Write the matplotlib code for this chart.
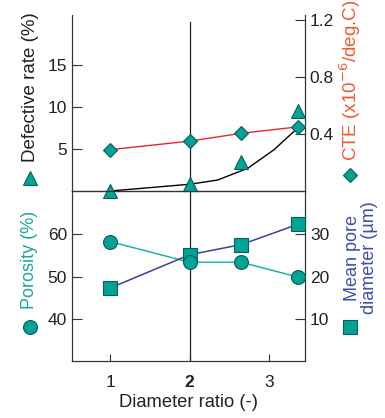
import matplotlib
matplotlib.use("Agg")
import matplotlib.pyplot as plt

plt.rcParams['font.family'] = ['Liberation Sans', 'DejaVu Sans']
plt.rcParams['font.size'] = 12

# diameter ratio positions
ratio = [1, 2, 2.65, 3.36]

# top panel
defect = [0, 0.8, 3.4, 9.5]
defect_curve_x = [1, 2, 2.35, 2.73, 3.06, 3.36]
defect_curve_y = [0, 0.8, 1.3, 2.7, 4.9, 7.5]
cte = [0.29, 0.35, 0.405, 0.45]

# bottom panel
porosity = [58.3, 53.4, 53.4, 49.9]
pore_diam = [17.3, 25.2, 27.6, 32.4]

teal = '#00a396'
edge = '#0b5d57'
txt = '#222222'

fig = plt.figure(figsize=(3.85, 4.18), dpi=100)
L, W = 72/385, 233/385
ax_top = fig.add_axes([L, 1-191/418, W, 176/418])
ax_bot = fig.add_axes([L, 1-361/418, W, 170/418])
ax_top2 = ax_top.twinx()
ax_bot2 = ax_bot.twinx()

for a in (ax_top, ax_bot, ax_top2, ax_bot2):
    a.set_xlim(0.52, 3.45)
    a.patch.set_visible(False)
    for s in a.spines.values():
        s.set_linewidth(0.8)
        s.set_color('#333333')
    a.tick_params(direction='in', length=7, width=0.8, colors='#333333',
                  labelcolor=txt, labelsize=12.5, pad=3.5)

# top panel
ax_top.spines['top'].set_visible(False)
ax_top2.spines['top'].set_visible(False)
ax_top.set_ylim(0, 20.9)
ax_top2.set_ylim(0, 1.235)
ax_top.set_yticks([5, 10, 15])
ax_top2.set_yticks([0.4, 0.8, 1.2])
ax_top.set_xticks([])
ax_top2.set_xticks([])
ax_top.axvline(2, ymax=0.96, color='#222222', lw=0.9)

ax_top.plot(defect_curve_x, defect_curve_y, color='black', lw=1, zorder=2)
ax_top2.plot(ratio, cte, color='#e8262a', lw=1, zorder=2)
ax_top2.plot(ratio, cte, ls='none', marker='D', ms=7.5, mfc=teal, mec=edge,
             mew=0.8, zorder=3, clip_on=False)
ax_top2.plot(ratio, [v * 1.235 / 20.9 for v in defect], ls='none', marker='^', ms=10,
             mfc=teal, mec=edge, mew=0.8, zorder=4, clip_on=False)

# bottom panel
ax_bot.set_ylim(30, 70.3)
ax_bot2.set_ylim(0, 40.3)
ax_bot.set_yticks([40, 50, 60])
ax_bot2.set_yticks([10, 20, 30])
ax_bot.set_xticks([1, 2, 3])
ax_bot.set_xticklabels(['1', '2', '3'])
ax_bot.get_xticklabels()[1].set_fontweight('bold')
ax_bot.tick_params(axis='x', length=5, pad=10)
ax_bot.axvline(2, color='#222222', lw=0.9)

ax_bot.plot(ratio, porosity, color='#1db5a8', lw=1.1, zorder=2)
ax_bot2.plot(ratio, pore_diam, color='#3a3f9e', lw=1.1, zorder=2)
ax_bot2.plot(ratio, pore_diam, ls='none', marker='s', ms=10, mfc=teal, mec=edge,
             mew=0.8, zorder=3, clip_on=False)
ax_bot2.plot(ratio, [p - 30 for p in porosity], ls='none', marker='o', ms=10,
             mfc=teal, mec=edge, mew=0.8, zorder=4, clip_on=False)

ax_bot.set_xlabel('Diameter ratio (-)', color=txt, fontsize=13.2, labelpad=3)

# axis titles with marker keys
def px(x, y):
    return x / 385, 1 - y / 418

fig.text(*px(31, 87), 'Defective rate (%)', rotation=90, ha='center', va='center',
         color=txt, fontsize=13.5)
fig.text(*px(30, 260), 'Porosity (%)', rotation=90, ha='center', va='center',
         color='#1aa89a', fontsize=13)
fig.text(*px(350, 80), 'CTE (x10$^{-6}$/deg.C)', rotation=90, ha='center', va='center',
         color='#f05a30', fontsize=13.5)
fig.text(*px(361, 258), 'Mean pore\ndiameter (\u00b5m)', rotation=90, ha='center',
         va='center', color='#3e4fa6', fontsize=13, linespacing=1.0)

keys = [((30, 178), '^', 10), ((30, 327), 'o', 10), ((350, 175), 'D', 7.5), ((350, 327), 's', 10)]
for (x, y), m, s in keys:
    fx, fy = px(x, y)
    fig.add_artist(plt.Line2D([fx], [fy], transform=fig.transFigure, ls='none',
                              marker=m, ms=s, mfc=teal, mec=edge, mew=0.8))

fig.savefig('out.png', dpi=100)
